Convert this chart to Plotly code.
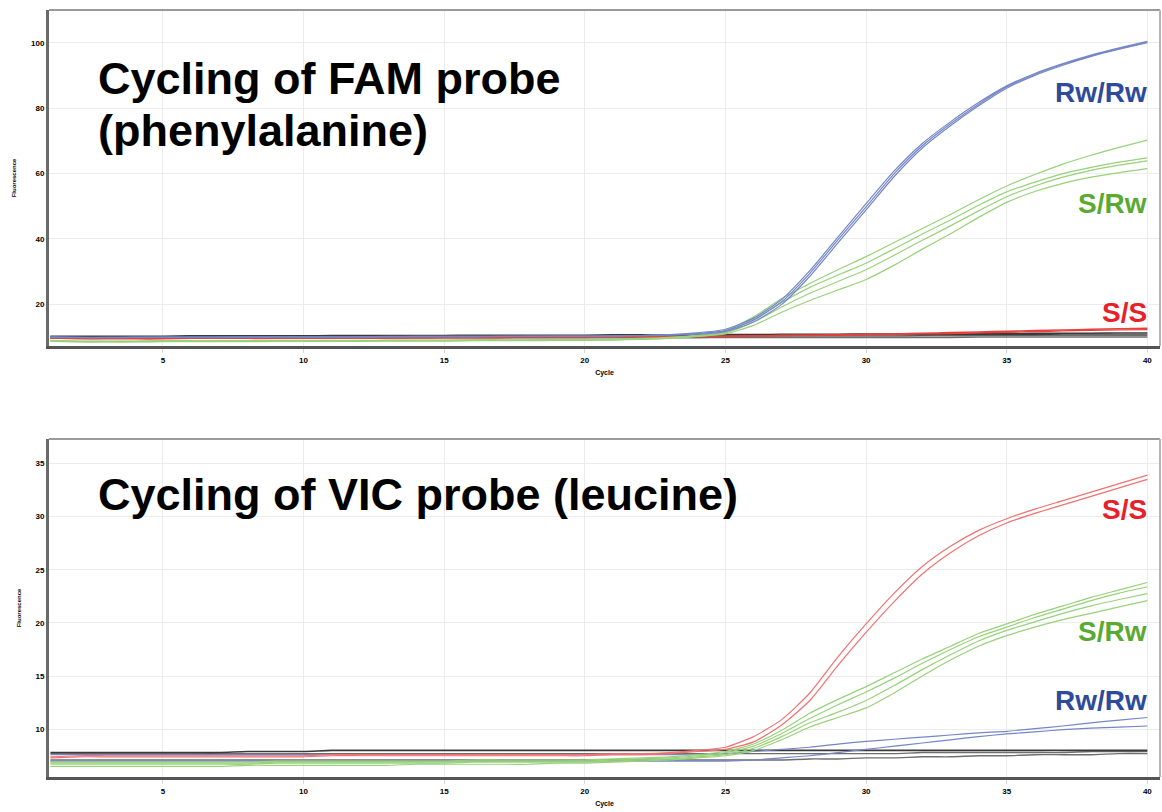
import plotly.graph_objects as go

cycles = list(range(1, 41))

# ---------- FAM probe (phenylalanine) ----------
FAM_RwRw_1 = [10.1,9.9,9.9,10.0,10.0,10.0,10.0,10.1,10.1,10.1, 10.1,10.1,10.2,10.2,10.2,10.2,10.2,10.3,10.3,10.3, 10.4,10.5,10.7,11.1,12.0,15.2,20.8,29.5,39.7,49.8, 60.0,68.5,75.2,81.2,86.5,90.3,93.4,96.0,98.2,100.2]
FAM_RwRw_2 = [10.0,9.9,9.9,9.9,10.0,10.0,10.0,10.0,10.1,10.1, 10.1,10.1,10.1,10.2,10.2,10.2,10.2,10.2,10.3,10.3, 10.4,10.5,10.8,11.3,12.4,15.8,21.5,30.3,40.6,50.8, 60.8,69.2,75.8,81.7,86.8,90.6,93.6,96.2,98.4,100.4]
FAM_RwRw_3 = [9.9,9.8,9.8,9.9,9.9,9.9,10.0,10.0,10.0,10.0, 10.0,10.1,10.1,10.1,10.1,10.1,10.2,10.2,10.2,10.2, 10.3,10.4,10.6,10.9,11.7,14.6,20.0,28.6,38.8,48.9, 59.1,67.8,74.6,80.7,86.1,90.0,93.1,95.8,98.0,100.0]

FAM_SRw_1 = [9.0,8.8,8.8,8.8,8.9,8.9,8.9,8.9,9.0,9.0, 9.0,9.0,9.1,9.1,9.1,9.2,9.2,9.2,9.3,9.3, 9.4,9.6,9.9,10.6,12.0,16.2,21.8,26.4,30.6,34.6, 38.9,43.2,47.5,52.0,56.2,59.7,62.9,65.6,68.0,70.2]
FAM_SRw_2 = [8.9,8.7,8.7,8.7,8.8,8.8,8.8,8.8,8.9,8.9, 8.9,8.9,9.0,9.0,9.0,9.1,9.1,9.1,9.2,9.2, 9.3,9.5,9.8,10.4,11.6,15.5,20.6,25.2,29.0,32.6, 37.0,41.5,45.8,50.3,54.4,57.4,60.0,61.9,63.5,64.8]
FAM_SRw_3 = [8.8,8.6,8.6,8.6,8.7,8.7,8.7,8.7,8.8,8.8, 8.8,8.8,8.9,8.9,8.9,9.0,9.0,9.0,9.1,9.1, 9.2,9.4,9.7,10.3,11.2,14.6,19.2,23.4,27.0,30.6, 35.0,39.6,44.0,48.6,52.9,56.2,58.9,61.0,62.6,63.9]
FAM_SRw_4 = [8.7,8.5,8.5,8.5,8.6,8.6,8.6,8.6,8.7,8.7, 8.7,8.7,8.8,8.8,8.8,8.9,8.9,8.9,9.0,9.0, 9.1,9.3,9.6,10.2,11.0,13.6,17.6,21.2,24.4,27.6, 32.0,36.9,41.6,46.6,51.2,54.5,57.0,58.9,60.3,61.5]

FAM_SS_1 = [9.8,9.6,9.6,9.6,9.6,9.7,9.7,9.7,9.7,9.8, 9.8,9.8,9.8,9.9,9.9,9.9,9.9,10.0,10.0,10.0, 10.1,10.1,10.2,10.2,10.3,10.4,10.5,10.6,10.7,10.9, 11.0,11.2,11.4,11.6,11.8,12.0,12.2,12.4,12.6,12.7]
FAM_SS_2 = [9.7,9.5,9.5,9.5,9.5,9.6,9.6,9.6,9.6,9.7, 9.7,9.7,9.7,9.8,9.8,9.8,9.8,9.9,9.9,9.9, 10.0,10.0,10.1,10.1,10.2,10.3,10.4,10.5,10.6,10.7, 10.8,11.0,11.1,11.3,11.5,11.7,11.9,12.1,12.2,12.3]

FAM_NTC_1 = [10.3,10.3,10.3,10.3,10.3,10.4,10.4,10.4,10.4,10.4, 10.5,10.5,10.5,10.5,10.5,10.6,10.6,10.6,10.6,10.6, 10.7,10.7,10.7,10.8,10.8,10.8,10.9,10.9,10.9,11.0, 11.0,11.0,11.1,11.1,11.1,11.2,11.2,11.2,11.3,11.3]
FAM_NTC_2 = [10.1,10.1,10.1,10.1,10.1,10.2,10.2,10.2,10.2,10.2, 10.3,10.3,10.3,10.3,10.3,10.4,10.4,10.4,10.4,10.4, 10.5,10.5,10.5,10.5,10.6,10.6,10.6,10.6,10.7,10.7, 10.7,10.7,10.8,10.8,10.8,10.8,10.9,10.9,10.9,10.9]
FAM_NTC_3 = [9.9,9.9,9.9,9.9,9.9,10.0,10.0,10.0,10.0,10.0, 10.0,10.0,10.1,10.1,10.1,10.1,10.1,10.1,10.2,10.2, 10.2,10.2,10.2,10.2,10.3,10.3,10.3,10.3,10.3,10.3, 10.3,10.4,10.4,10.4,10.4,10.4,10.4,10.4,10.4,10.4]
FAM_NTC_4 = [9.6,9.6,9.6,9.6,9.6,9.7,9.7,9.7,9.7,9.7, 9.7,9.7,9.7,9.7,9.8,9.8,9.8,9.8,9.8,9.8, 9.8,9.8,9.8,9.8,9.9,9.9,9.9,9.9,9.9,9.9, 9.9,9.9,9.9,10.0,10.0,10.0,10.0,10.0,10.0,10.0]

# ---------- VIC probe (leucine) ----------
VIC_SS_1 = [7.4,7.5,7.5,7.5,7.5,7.5,7.5,7.5,7.5,7.5, 7.6,7.6,7.6,7.6,7.6,7.6,7.6,7.6,7.6,7.6, 7.7,7.7,7.8,8.0,8.3,9.3,10.9,13.4,16.8,19.9, 22.8,25.3,27.2,28.7,29.8,30.7,31.5,32.3,33.1,33.9]
VIC_SS_2 = [7.3,7.4,7.4,7.4,7.4,7.4,7.4,7.4,7.4,7.4, 7.5,7.5,7.5,7.5,7.5,7.5,7.5,7.5,7.5,7.5, 7.6,7.6,7.7,7.9,8.1,8.8,10.4,12.7,16.0,19.1, 22.0,24.6,26.6,28.2,29.4,30.3,31.1,31.9,32.7,33.5]

VIC_SRw_1 = [6.9,6.9,6.9,6.9,6.9,6.9,6.9,6.9,7.0,7.0, 7.0,7.0,7.0,7.0,7.0,7.1,7.1,7.1,7.1,7.1, 7.2,7.3,7.4,7.6,7.9,8.6,9.9,11.5,12.8,14.0, 15.3,16.6,17.8,19.0,19.9,20.8,21.6,22.4,23.1,23.8]
VIC_SRw_2 = [6.8,6.8,6.8,6.8,6.8,6.8,6.8,6.8,6.9,6.9, 6.9,6.9,6.9,6.9,6.9,7.0,7.0,7.0,7.0,7.0, 7.1,7.2,7.3,7.5,7.8,8.4,9.6,11.0,12.3,13.5, 14.8,16.2,17.5,18.7,19.6,20.5,21.3,22.1,22.8,23.4]
VIC_SRw_3 = [6.7,6.7,6.7,6.7,6.7,6.7,6.7,6.7,6.8,6.8, 6.8,6.8,6.8,6.8,6.8,6.9,6.9,6.9,6.9,6.9, 7.0,7.1,7.2,7.4,7.6,8.2,9.3,10.6,11.6,12.7, 14.1,15.6,17.0,18.3,19.3,20.1,20.9,21.6,22.2,22.75]
VIC_SRw_4 = [6.5,6.5,6.5,6.5,6.5,6.5,6.5,6.6,6.6,6.6, 6.6,6.6,6.6,6.7,6.7,6.7,6.7,6.7,6.8,6.8, 6.9,7.0,7.1,7.3,7.5,8.0,9.0,10.2,11.1,12.0, 13.4,15.0,16.5,17.8,18.8,19.6,20.3,20.9,21.5,22.1]

VIC_RwRw_1 = [7.6,7.6,7.6,7.6,7.6,7.6,7.6,7.6,7.6,7.6, 7.6,7.6,7.6,7.6,7.6,7.6,7.6,7.6,7.6,7.6, 7.6,7.6,7.6,7.6,7.7,7.9,8.1,8.3,8.6,8.85, 9.05,9.25,9.45,9.65,9.8,10.05,10.3,10.6,10.85,11.1]
VIC_RwRw_2 = [7.0,7.0,7.0,7.0,7.0,7.0,7.0,7.0,7.0,7.0, 7.0,7.0,7.0,7.0,7.0,7.0,7.0,7.0,7.0,7.0, 7.0,7.0,7.0,7.0,7.0,7.1,7.3,7.5,7.8,8.1, 8.4,8.7,9.0,9.3,9.55,9.75,9.95,10.1,10.2,10.3]

VIC_NTC_1 = [7.8,7.8,7.8,7.8,7.8,7.8,7.8,7.9,7.9,7.9, 8.0,8.0,8.0,8.0,8.0,8.0,8.0,8.0,8.0,8.0, 8.0,8.0,8.0,8.0,8.0,8.0,8.0,8.0,8.0,8.0, 8.0,8.0,8.0,8.0,8.0,8.0,8.0,8.0,8.0,8.0]
VIC_NTC_2 = [7.7,7.7,7.7,7.7,7.7,7.7,7.7,7.7,7.7,7.7, 7.7,7.7,7.7,7.7,7.7,7.7,7.7,7.7,7.7,7.7, 7.7,7.7,7.7,7.7,7.7,7.7,7.7,7.7,7.7,7.7, 7.7,7.8,7.8,7.8,7.8,7.8,7.8,7.9,7.9,7.9]
VIC_NTC_3 = [7.1,7.1,7.1,7.1,7.1,7.1,7.1,7.1,7.1,7.1, 7.1,7.1,7.1,7.1,7.1,7.1,7.1,7.1,7.1,7.1, 7.1,7.1,7.1,7.1,7.1,7.1,7.1,7.2,7.2,7.3, 7.3,7.4,7.4,7.5,7.5,7.6,7.6,7.6,7.7,7.7]

top_title_1 = "Cycling of FAM probe"
top_title_2 = "(phenylalanine)"
bottom_title = "Cycling of VIC probe (leucine)"
y_ticks_top = [20, 40, 60, 80, 100]
y_ticks_bottom = [10, 15, 20, 25, 30, 35]
x_ticks = [5, 10, 15, 20, 25, 30, 35, 40]

BLUE = "#7486c8"
GREEN = "#98d27a"
RED_TOP = "#e8403c"
RED_BOT = "#f07272"
GRAY = "#6e6e6e"
DARK = "#3a3a3a"

fig = go.Figure()

def add(y, color, xa, ya, w=1.2):
    fig.add_trace(go.Scatter(x=cycles, y=y, mode="lines", xaxis=xa, yaxis=ya,
                             line=dict(color=color, width=w, shape="spline", smoothing=0.6),
                             showlegend=False, hoverinfo="skip"))

# top panel
for s in [FAM_NTC_4, FAM_NTC_3]:
    add(s, GRAY, "x", "y", 1.4)
for s in [FAM_NTC_2, FAM_NTC_1]:
    add(s, DARK, "x", "y", 1.4)
for s in [FAM_SS_2, FAM_SS_1]:
    add(s, RED_TOP, "x", "y", 1.4)
for s in [FAM_SRw_1, FAM_SRw_2, FAM_SRw_3, FAM_SRw_4]:
    add(s, GREEN, "x", "y")
for s in [FAM_RwRw_1, FAM_RwRw_2, FAM_RwRw_3]:
    add(s, BLUE, "x", "y")

# bottom panel
for s in [VIC_NTC_3, VIC_NTC_2]:
    add(s, GRAY, "x2", "y2", 1.4)
add(VIC_NTC_1, DARK, "x2", "y2", 1.6)
for s in [VIC_RwRw_1, VIC_RwRw_2]:
    add(s, BLUE, "x2", "y2")
for s in [VIC_SRw_1, VIC_SRw_2, VIC_SRw_3, VIC_SRw_4]:
    add(s, GREEN, "x2", "y2")
for s in [VIC_SS_1, VIC_SS_2]:
    add(s, RED_BOT, "x2", "y2")

tickfont = dict(family="Liberation Sans, Arial", size=8, color="black", weight=700)
titlefont = dict(family="Liberation Sans, Arial", size=7, color="black", weight=700)

def xaxis(domain_anchor):
    return dict(range=[0.95, 40.45], tickvals=x_ticks, showgrid=True, gridcolor="#ececec",
                gridwidth=1, zeroline=False, showline=True, linecolor="#555555", linewidth=3,
                ticks="outside", ticklen=4, tickcolor="#d8d8d8", tickfont=tickfont,
                title=dict(text="Cycle", font=titlefont, standoff=7), anchor=domain_anchor)

def yaxis(rng, tv, dom, anchor):
    return dict(range=rng, tickvals=tv, domain=dom, showgrid=True, gridcolor="#ececec",
                gridwidth=1, zeroline=False, showline=True, linecolor="#6a6a6a", linewidth=3,
                ticks="", tickfont=tickfont,
                title=dict(text="Fluorescence", font=dict(family="Liberation Sans, Arial", size=6,
                           color="black", weight=700), standoff=14), anchor=anchor)

fig.update_layout(
    width=1162, height=812,
    margin=dict(l=49, r=2, t=10, b=35),
    paper_bgcolor="white", plot_bgcolor="white",
    xaxis=xaxis("y"),
    yaxis=yaxis([7.3, 110], y_ticks_top, [0.562, 1.0], "x"),
    xaxis2=xaxis("y2"),
    yaxis2=yaxis([5.5, 37.3], y_ticks_bottom, [0.0, 0.4407], "x2"),
)

# top and right frame edges
for xr, yr in [("x domain", "y domain"), ("x2 domain", "y2 domain")]:
    fig.add_shape(type="line", xref=xr, yref=yr, x0=0, x1=1, y0=1, y1=1,
                  line=dict(color="#9a9a9a", width=2))
    fig.add_shape(type="line", xref=xr, yref=yr, x0=1, x1=1, y0=0, y1=1,
                  line=dict(color="#b5b5b5", width=2))

bigfont = dict(family="Liberation Sans, Arial", size=45, color="black", weight=700)
fig.add_annotation(text=top_title_1, xref="x domain", yref="y domain", x=0.042, y=0.797,
                   xanchor="left", yanchor="middle", showarrow=False, font=bigfont)
fig.add_annotation(text=top_title_2, xref="x domain", yref="y domain", x=0.042, y=0.640,
                   xanchor="left", yanchor="middle", showarrow=False, font=bigfont)
fig.add_annotation(text=bottom_title, xref="x2 domain", yref="y2 domain", x=0.042, y=0.835,
                   xanchor="left", yanchor="middle", showarrow=False, font=bigfont)

def label(text, color, y, xa, ya):
    fig.add_annotation(text=text, x=40.05, y=y, xref=xa, yref=ya, xanchor="right",
                       yanchor="middle", showarrow=False,
                       font=dict(family="Liberation Sans, Arial", size=28, color=color, weight=700))

LBL_BLUE = "#2e4b9b"
LBL_GREEN = "#5aaa32"
LBL_RED = "#e8202a"
label("Rw/Rw", LBL_BLUE, 84.7, "x", "y")
label("S/Rw", LBL_GREEN, 51.0, "x", "y")
label("S/S", LBL_RED, 17.6, "x", "y")
label("S/S", LBL_RED, 30.7, "x2", "y2")
label("S/Rw", LBL_GREEN, 19.2, "x2", "y2")
label("Rw/Rw", LBL_BLUE, 12.7, "x2", "y2")

fig.write_html("out.html", config={"displayModeBar": False},
               post_script="document.body.style.margin='0';")
